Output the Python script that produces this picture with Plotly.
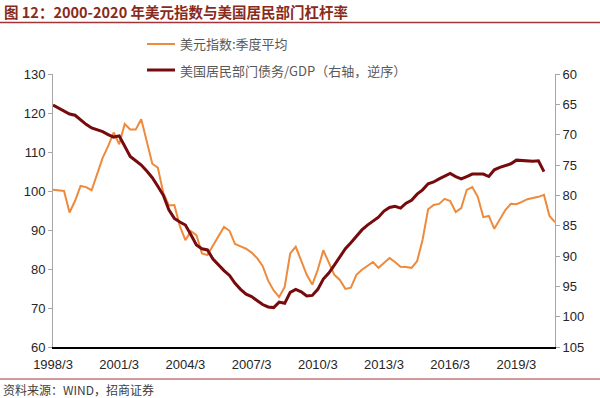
import plotly.graph_objects as go

# quarterly categories 1998/3 ... 2020/12
years = list(range(1998, 2021))
months = [3, 6, 9, 12]
quarters = [f"{y}/{m}" for y in years for m in months]

dxy = [100.3, 100.2, 100.0, 94.5, 97.5, 101.3, 101.0, 100.2, 104.5, 108.5,
       111.5, 115.0, 112.0, 117.2, 115.8, 115.8, 118.4, 113.0, 107.0, 106.0,
       99.5, 96.3, 96.4, 91.0, 87.4, 89.7, 88.7, 84.0, 83.6, 86.0,
       88.5, 90.8, 89.8, 86.4, 85.8, 85.2, 84.2, 82.8, 80.8, 77.0,
       74.5, 72.8, 75.4, 84.0, 85.7, 82.0, 78.5, 76.0, 79.8, 84.8,
       81.5, 78.5, 77.2, 74.9, 75.2, 78.5, 79.8, 80.8, 81.8, 80.3,
       81.5, 82.8, 81.8, 80.6, 80.5, 80.3, 82.0, 87.5, 95.3, 96.4,
       96.7, 98.0, 97.4, 94.6, 95.6, 100.3, 101.0, 98.5, 93.3, 93.6,
       90.3, 92.6, 95.1, 96.7, 96.6, 97.2, 97.9, 98.2, 98.5, 99.0,
       93.6, 92.0]

debt_gdp = [65.1, 65.6, 66.0, 66.6, 66.8, 67.6, 68.3, 68.9, 69.2, 69.5,
            70.0, 70.4, 70.2, 72.0, 73.6, 74.3, 75.0, 76.0, 77.1, 78.5,
            80.0, 82.4, 83.8, 84.4, 84.9, 86.5, 88.2, 88.8, 89.0, 90.5,
            91.5, 92.4, 93.2, 94.5, 95.5, 96.3, 96.7, 97.4, 98.0, 98.4,
            98.5, 97.6, 97.8, 96.0, 95.5, 95.9, 96.6, 96.5, 95.5, 93.8,
            92.8, 91.5, 90.2, 88.8, 87.8, 86.8, 85.7, 84.9, 84.2, 83.6,
            82.6, 82.0, 81.8, 82.1, 81.3, 80.8, 79.8, 79.1, 78.1, 77.8,
            77.3, 76.9, 76.4, 76.9, 77.3, 76.9, 76.5, 76.5, 76.5, 76.9,
            75.8, 75.4, 75.1, 74.8, 74.2, 74.3, 74.4, 74.4, 74.3, 76.1]

tick_labels = ["1998/3", "2001/3", "2004/3", "2007/3", "2010/3", "2013/3", "2016/3", "2019/3"]
left_ticks = list(range(60, 131, 10))
right_ticks = list(range(60, 106, 5))

name_dxy = "美元指数:季度平均"
name_debt = "美国居民部门债务/GDP（右轴，逆序）"
color_dxy = "#EE8A3C"
color_debt = "#760A0C"

W, H = 600, 398
L, R, T, B = 53, 45, 74, 51
PW, PH = W - L - R, H - T - B


def px_x(x):
    return (x - L) / PW


def px_y(y):
    return (H - B - y) / PH


fig = go.Figure()
fig.add_trace(go.Scatter(x=quarters, y=dxy, mode="lines", name=name_dxy,
                         line=dict(color=color_dxy, width=2)))
fig.add_trace(go.Scatter(x=quarters[:len(debt_gdp)], y=debt_gdp, mode="lines", name=name_debt,
                         line=dict(color=color_debt, width=3), yaxis="y2"))

tick_font = dict(family="Liberation Sans, Arial", size=13, color="#262626")
legend_font = dict(family="Noto Sans CJK SC", size=13, color="#595959")

annotations = [
    dict(text="<b>图 12：2000-2020 年美元指数与美国居民部门杠杆率</b>",
         x=px_x(2), y=px_y(12), font=dict(family="Noto Sans CJK SC", size=14.5, color="#8A2A1A")),
    dict(text="资料来源：WIND，招商证券",
         x=px_x(1), y=px_y(390), font=dict(family="Noto Sans CJK SC", size=12, color="#404040")),
    dict(text=name_dxy, x=px_x(178), y=px_y(44), font=legend_font),
    dict(text=name_debt, x=px_x(178), y=px_y(70), font=legend_font),
]
for a in annotations:
    a.update(xref="paper", yref="paper", xanchor="left", yanchor="middle", showarrow=False)

shapes = [
    dict(type="line", x0=px_x(0), x1=px_x(W), y0=px_y(22.5), y1=px_y(22.5),
         line=dict(color="#A3343A", width=1.5)),
    dict(type="line", x0=px_x(0), x1=px_x(W), y0=px_y(379), y1=px_y(379),
         line=dict(color="#A3343A", width=1)),
    dict(type="line", x0=px_x(147), x1=px_x(175), y0=px_y(44), y1=px_y(44),
         line=dict(color=color_dxy, width=2)),
    dict(type="line", x0=px_x(147), x1=px_x(175), y0=px_y(70), y1=px_y(70),
         line=dict(color=color_debt, width=3)),
]
for s in shapes:
    s.update(xref="paper", yref="paper")

fig.update_layout(
    width=W, height=H,
    margin=dict(l=L, r=R, t=T, b=B, autoexpand=False),
    paper_bgcolor="white", plot_bgcolor="white",
    showlegend=False,
    xaxis=dict(type="category", range=[0, len(quarters) - 1],
               tickmode="array", tickvals=tick_labels, ticktext=tick_labels,
               showgrid=False, showline=True, linecolor="#000000", linewidth=1.5,
               ticks="", tickfont=tick_font, zeroline=False, automargin=False,
               ticklabelstandoff=5),
    yaxis=dict(range=[60, 130], tickvals=left_ticks, showgrid=False,
               showline=True, linecolor="#A6A6A6", linewidth=1,
               ticks="outside", ticklen=4, tickcolor="#A6A6A6",
               tickfont=tick_font, zeroline=False, automargin=False),
    yaxis2=dict(range=[105, 60], tickvals=right_ticks, overlaying="y", side="right",
                showgrid=False, showline=True, linecolor="#A6A6A6", linewidth=1,
                ticks="outside", ticklen=4, tickcolor="#A6A6A6",
                tickfont=tick_font, zeroline=False, automargin=False),
    annotations=annotations,
    shapes=shapes,
)

fig.write_html("out.html", config={"displayModeBar": False},
               post_script="document.body.style.margin='0px';document.body.style.overflow='hidden';")
